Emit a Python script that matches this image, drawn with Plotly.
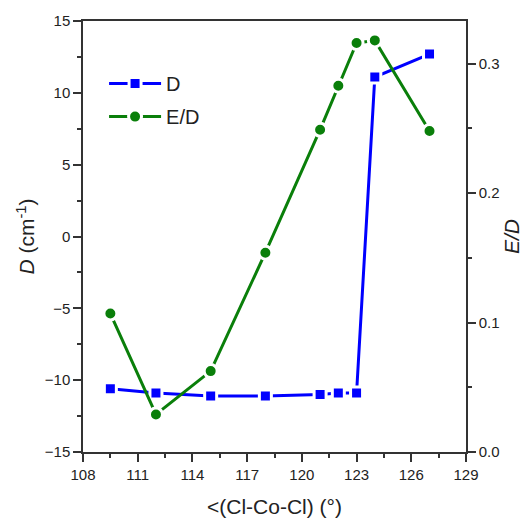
import plotly.graph_objects as go

angle = [109.5, 112, 115, 118, 121, 122, 123, 124, 127]
D_vals = [-10.6, -10.9, -11.1, -11.1, -11.0, -10.9, -10.9, 11.1, 12.7]
ED_vals = [0.107, 0.029, 0.0625, 0.154, 0.249, 0.283, 0.316, 0.318, 0.248]

x_ticks = [108, 111, 114, 117, 120, 123, 126, 129]
y_ticks = [-15, -10, -5, 0, 5, 10, 15]
y2_ticks = [0.0, 0.1, 0.2, 0.3]

BLUE = "#0000FF"
GREEN = "#0A7F0A"
AX = "#333333"
FONT = "Liberation Sans, Arial, sans-serif"

fig = go.Figure()
fig.add_trace(go.Scatter(x=angle, y=D_vals, name="D", mode="lines+markers", legendgroup="a",
                         line=dict(color=BLUE, width=3),
                         marker=dict(symbol="square", size=12, color=BLUE,
                                     line=dict(color="white", width=3))))
fig.add_trace(go.Scatter(x=angle, y=ED_vals, name="E/D", mode="lines+markers", yaxis="y2",
                         legendgroup="b",
                         line=dict(color=GREEN, width=3),
                         marker=dict(symbol="circle", size=13, color=GREEN,
                                     line=dict(color="white", width=3))))

fig.update_layout(
    width=521, height=512,
    margin=dict(l=75, r=63, t=13, b=68),
    paper_bgcolor="white", plot_bgcolor="white",
    font=dict(family=FONT, size=15, color="#222"),
    showlegend=True,
    legend=dict(x=0.055, y=0.9, xanchor="left", yanchor="top",
                bgcolor="rgba(0,0,0,0)", font=dict(size=20, color="#222"),
                itemwidth=52, tracegroupgap=4),
    xaxis=dict(range=[108, 129], tickvals=x_ticks, ticks="outside", ticklen=8, tickwidth=1.5,
               tickcolor=AX, showline=True, linecolor=AX, linewidth=1.5, mirror=True,
               showgrid=False, zeroline=False, automargin=False,
               minor=dict(dtick=1.5, ticks="outside", ticklen=4, tickcolor=AX, tickwidth=1.5),
               title=dict(text="<(Cl-Co-Cl) (°)", font=dict(size=21), standoff=18)),
    yaxis=dict(range=[-15, 15], tickvals=y_ticks, ticks="outside", ticklen=8, tickwidth=1.5,
               tickcolor=AX, showline=True, linecolor=AX, linewidth=1.5,
               showgrid=False, zeroline=False, automargin=False,
               minor=dict(dtick=2.5, ticks="outside", ticklen=4, tickcolor=AX, tickwidth=1.5),
               title=dict(text="<i>D</i> (cm<sup>-1</sup>)", font=dict(size=21), standoff=4)),
    yaxis2=dict(range=[0, 0.333], tickvals=y2_ticks, ticktext=["0.0", "0.1", "0.2", "0.3"],
                overlaying="y", side="right", ticks="outside", ticklen=8, tickwidth=1.5,
                tickcolor=AX, showline=True, linecolor=AX, linewidth=1.5,
                showgrid=False, zeroline=False, automargin=False,
                minor=dict(dtick=0.05, ticks="outside", ticklen=4, tickcolor=AX, tickwidth=1.5),
                title=dict(text="<i>E/D</i>", font=dict(size=21), standoff=6)),
)

fig.write_html("out.html")
